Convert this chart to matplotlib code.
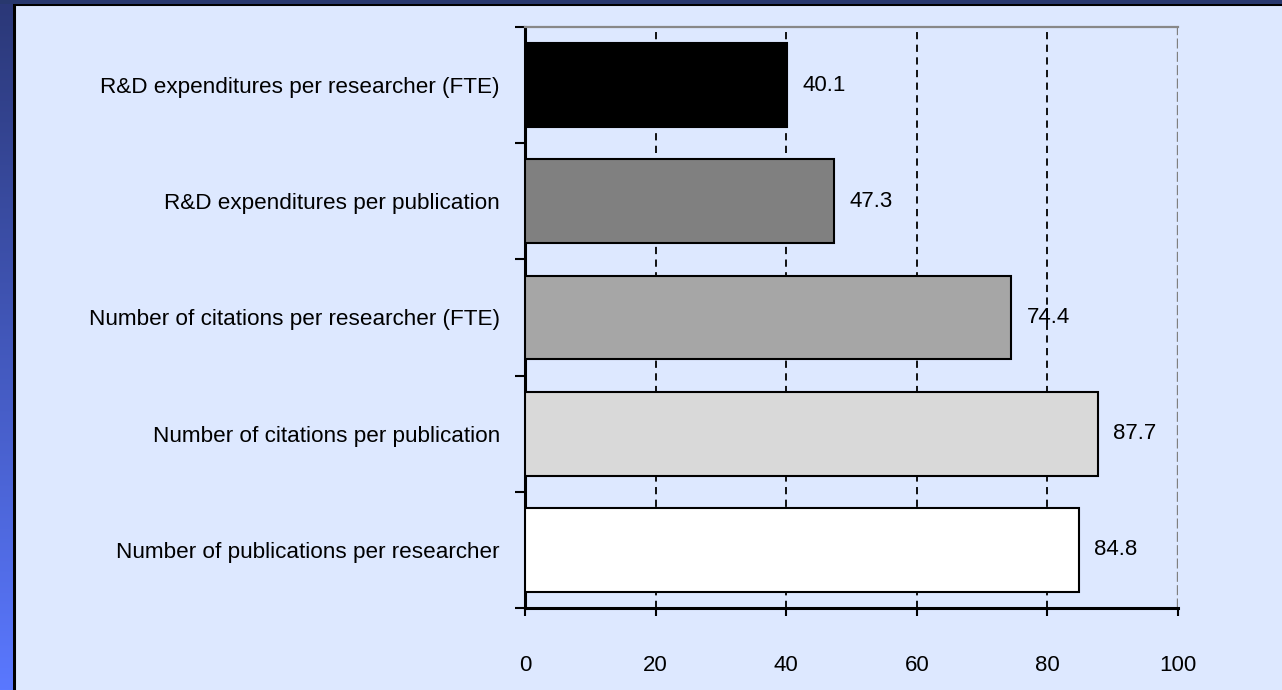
import numpy as np
import matplotlib
matplotlib.use("Agg")
from matplotlib import pyplot as plt
from matplotlib.patches import Rectangle
from matplotlib.colors import LinearSegmentedColormap

# data
categories = ["R&D expenditures per researcher (FTE)",
              "R&D expenditures per publication",
              "Number of citations per researcher (FTE)",
              "Number of citations per publication",
              "Number of publications per researcher"]
values = [40.1, 47.3, 74.4, 87.7, 84.8]
bar_colors = ["#000000", "#808080", "#A6A6A6", "#D9D9D9", "#FFFFFF"]
xticks = [0, 20, 40, 60, 80, 100]

plt.rcParams["font.family"] = ["Liberation Sans", "DejaVu Sans"]

W, H = 1282, 690
fig = plt.figure(figsize=(W/100, H/100), dpi=100)
fig.patch.set_facecolor("#DDE8FF")

# background panel, left blue gradient strip, top navy strip
fig.patches.append(Rectangle((14/W, -0.05), 1.1, 1.05-4/H, transform=fig.transFigure,
                             facecolor="#DDE8FF", edgecolor="black", lw=2.2, zorder=-3))
fig.patches.append(Rectangle((0, 1-4/H), 1, 4/H, transform=fig.transFigure,
                             facecolor="#28386E", edgecolor="none", zorder=-2))
gax = fig.add_axes([0, 0, 13/W, 1-4/H])
grad = np.linspace(0, 1, 256).reshape(-1, 1)
cm = LinearSegmentedColormap.from_list("g", ["#2B3878", "#5A78FF"])
gax.imshow(grad, aspect="auto", cmap=cm, extent=[0, 1, 1, 0])
gax.set_axis_off()

ax = fig.add_axes([525/W, 1-608/H, 653/W, 581/H])
ax.set_facecolor("none")
y = np.arange(len(categories))
ax.barh(y, values, height=0.72, color=bar_colors, edgecolor="black", lw=1.5, zorder=3)
for yi, v in zip(y, values):
    ax.text(v + 2.4, yi, f"{v:.1f}", va="center", ha="left", fontsize=16, zorder=4)

for xv in xticks[1:-1]:
    ax.axvline(xv, color="black", ls=(0, (4, 3)), lw=1.3, zorder=1)
ax.axvline(100, color="#808080", ls=(0, (3, 1)), lw=2.4, zorder=1)

ax.set_xlim(0, 100)
ax.set_ylim(len(categories)-0.5, -0.5)
ax.set_xticks(xticks)
ax.set_yticks(y)
ax.set_yticklabels(categories, fontsize=16.2)
ax.set_yticks(np.arange(-0.5, len(categories), 1), minor=True)
ax.tick_params(axis="y", which="major", length=0, pad=18)
ax.tick_params(axis="y", which="minor", length=7, width=1.5, direction="out")
ax.tick_params(axis="x", length=6, width=1.5, direction="out", pad=28, labelsize=16)

for s in ["left", "bottom"]:
    ax.spines[s].set_linewidth(2.2)
    ax.spines[s].set_color("black")
ax.spines["right"].set_visible(False)
ax.spines["top"].set_color("#888888")
ax.spines["top"].set_linewidth(1.6)

fig.savefig("out.png", dpi=100)
